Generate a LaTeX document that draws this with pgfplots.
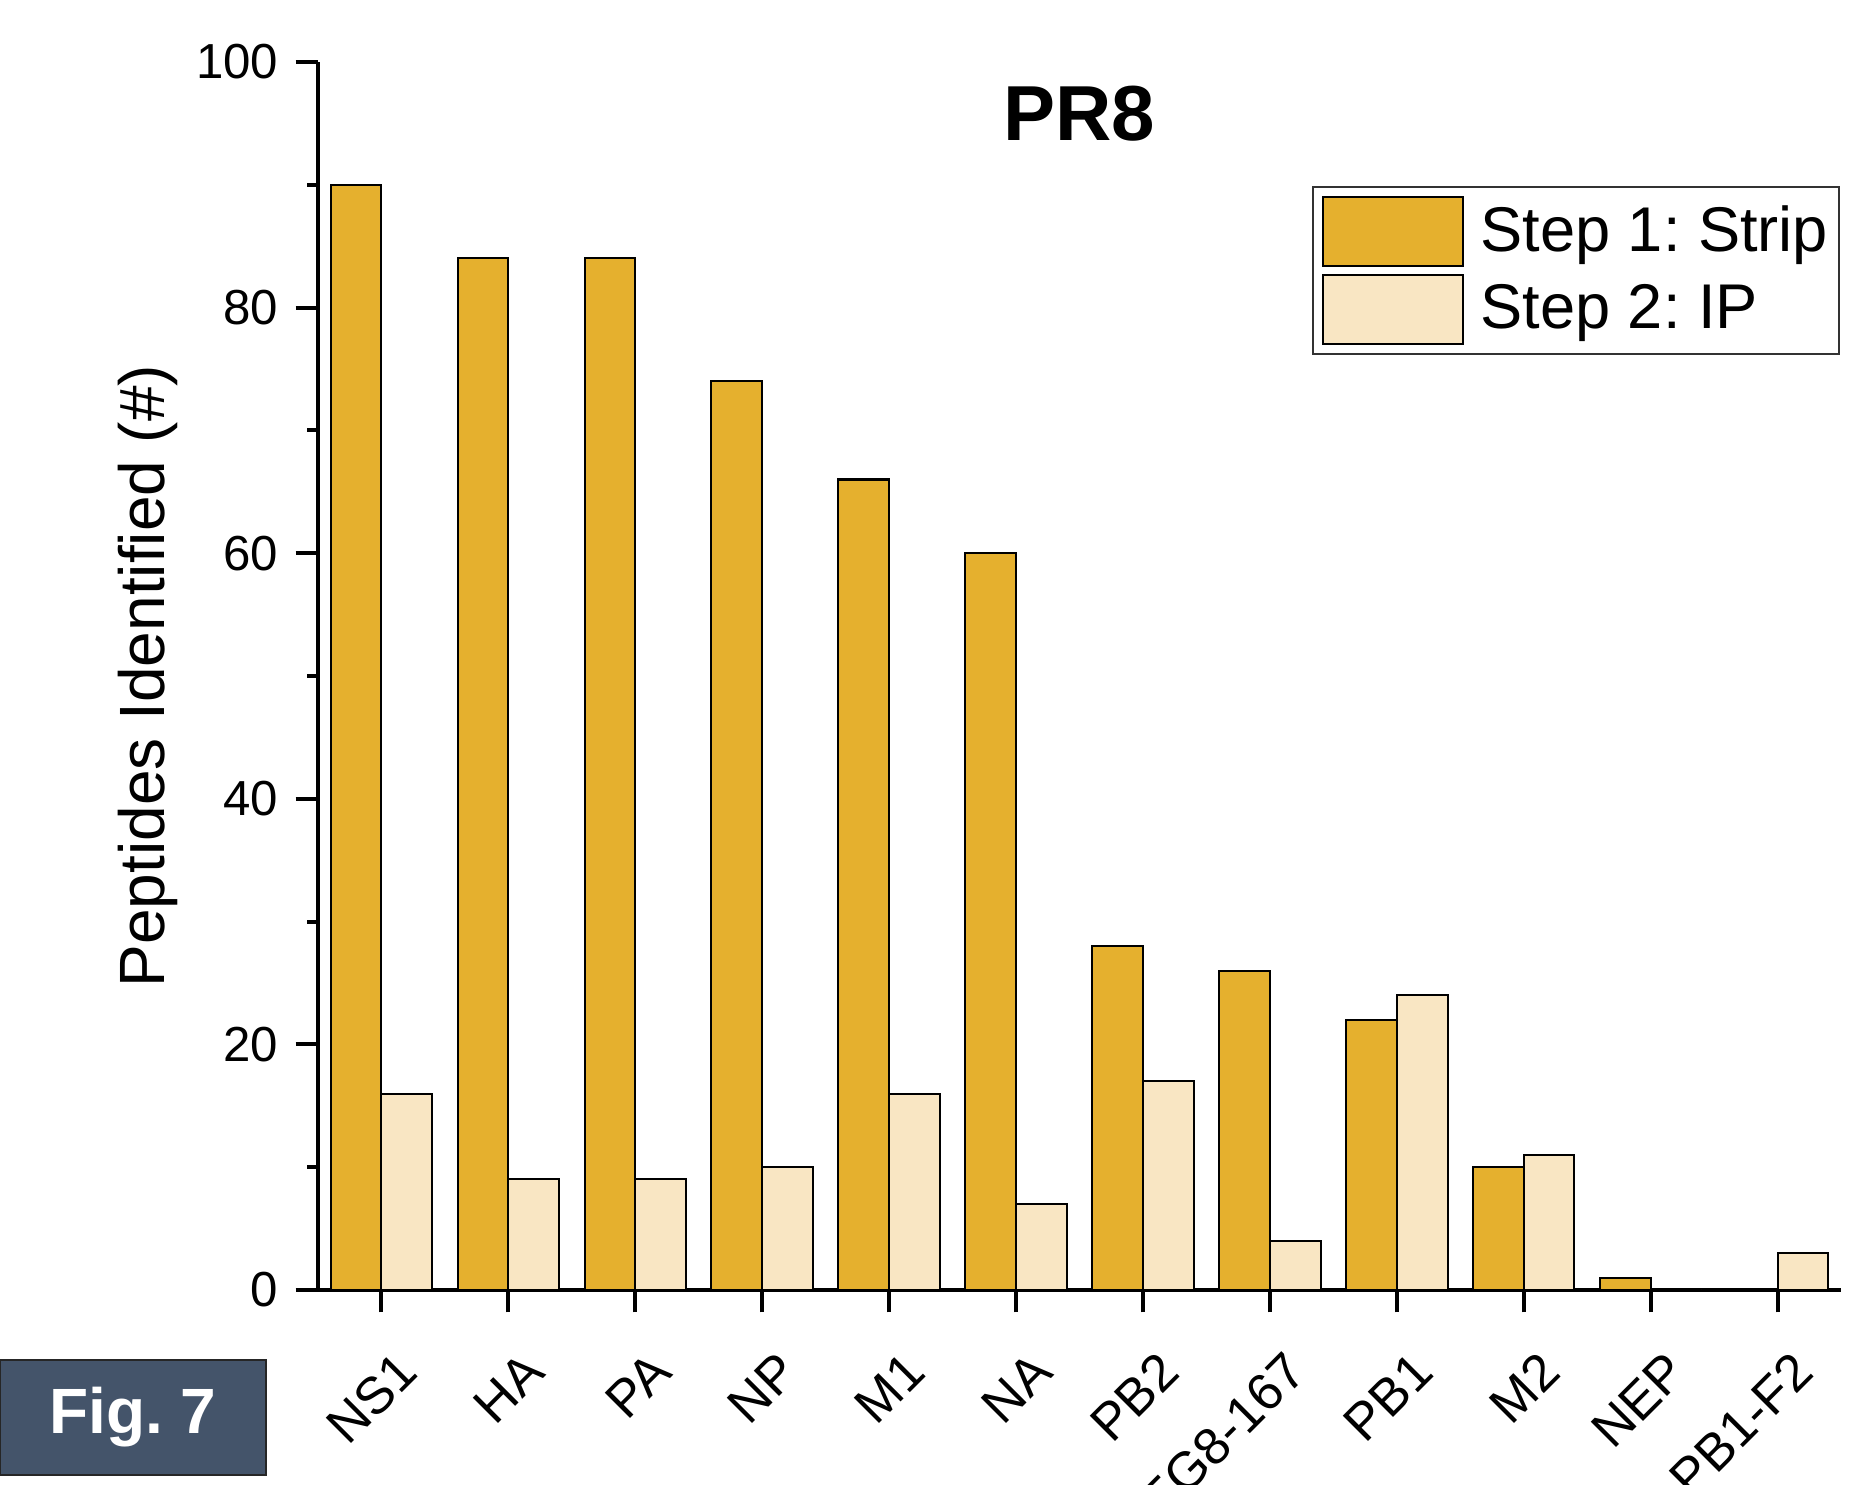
\documentclass[border=0pt]{standalone}
\usepackage{fontspec}
\setmainfont{Liberation Sans}
\usepackage{pgfplots}
\pgfplotsset{compat=1.18}
\definecolor{stripc}{RGB}{229,176,46}
\definecolor{ipc}{RGB}{249,230,195}
\definecolor{figbox}{RGB}{68,84,106}
\pgfplotsset{boxlegend/.style={legend image code/.code={\draw[##1] (0pt,-8.7pt) rectangle (35pt,8.7pt);}}}
\frenchspacing
\begin{document}
\begin{tikzpicture}
\begin{axis}[
  at={(79.5pt,48.75pt)}, anchor=south west,
  scale only axis, width=380.75pt, height=307pt,
  xmin=-0.5, xmax=11.5, ymin=0, ymax=100,
  axis lines=left, axis line style={-, line width=1.1pt},
  ybar=0pt, bar width=0.4,
  xtick={0,...,11},
  xticklabels={NS1,HA,PA,NP,M1,NA,PB2,EG8-167,PB1,M2,NEP,PB1-F2},
  ytick={0,20,...,100}, minor y tick num=1,
  tick align=outside, major tick length=5.6pt, minor tick length=2.7pt,
  tick style={line width=1pt, black},
  /pgf/number format/assume math mode=true,
  yticklabel style={font=\fontsize{12.3}{14}\selectfont, xshift=-0.8pt},
  xticklabel style={font=\fontsize{13}{15}\selectfont, xshift=9pt, yshift=-10pt, rotate=45, anchor=east},
  ylabel={Peptides Identified (\#)},
  ylabel style={font=\fontsize{16}{19}\selectfont, at={(axis description cs:-0.1116,0.5)}, anchor=center},
  legend style={at={(0.9993,0.899)}, anchor=north east, draw=black!80, line width=0.5pt,
    font=\fontsize{15.8}{19}\selectfont, inner xsep=2.2pt, inner ysep=2.2pt, row sep=1.6pt,
    nodes={inner sep=0.5pt},
    /tikz/every odd column/.append style={column sep=3.6pt}},
  legend cell align=left,
]
\addplot[fill=stripc, draw=black, line width=0.5pt, boxlegend]
  coordinates {(0,90) (1,84) (2,84) (3,74) (4,66) (5,60) (6,28) (7,26) (8,22) (9,10) (10,1) (11,0)};
\addplot[fill=ipc, draw=black, line width=0.5pt, boxlegend]
  coordinates {(0,16) (1,9) (2,9) (3,10) (4,16) (5,7) (6,17) (7,4) (8,24) (9,11) (10,0) (11,3)};
\legend{Step 1: Strip, Step 2: IP}
\node[font=\bfseries\fontsize{19.5}{23}\selectfont] at (rel axis cs:0.5,0.958) {PR8};
\end{axis}
\draw[fill=figbox, draw=black!85, line width=0.6pt] (0pt,2.5pt) rectangle (66.5pt,31.25pt);
\node[text=white, font=\bfseries\fontsize{16}{19}\selectfont] at (33.25pt,16.9pt) {Fig. 7};
\pgfresetboundingbox
\path[use as bounding box] (0,0) rectangle (465.5pt,371.25pt);
\end{tikzpicture}
\end{document}
